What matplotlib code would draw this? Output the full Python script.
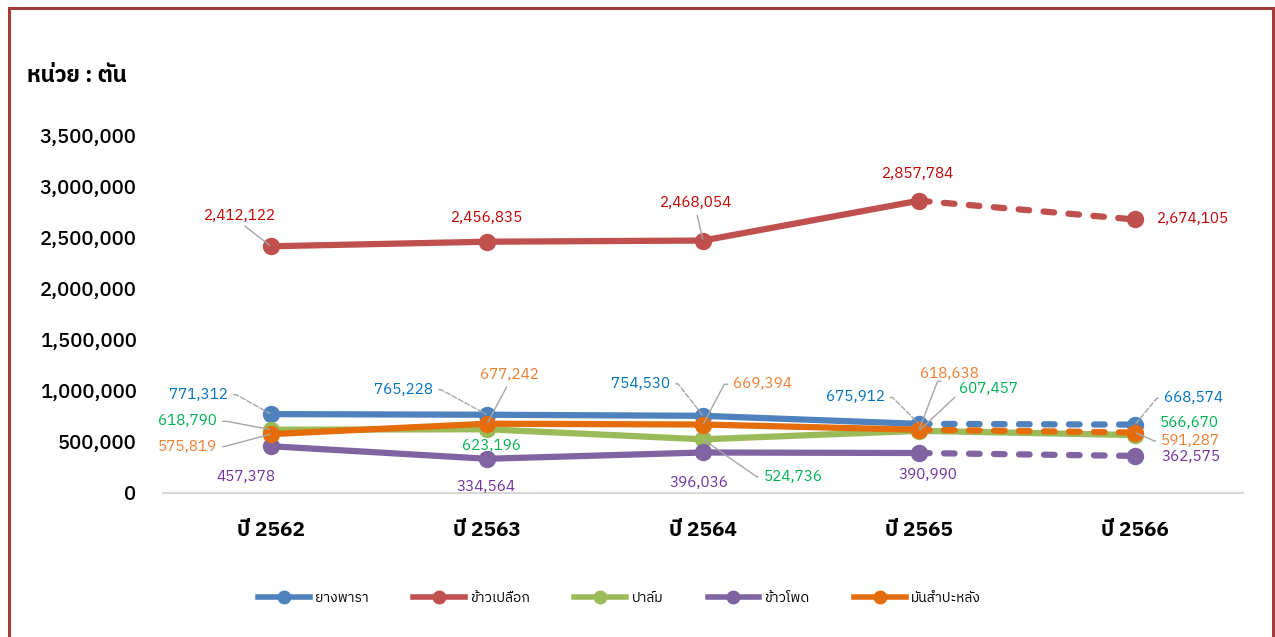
import matplotlib
matplotlib.use("Agg")
import matplotlib.pyplot as plt
from matplotlib import font_manager
from matplotlib.ft2font import FT2Font
from matplotlib.lines import Line2D

# Data (ตัน)
years = ["ปี 2562", "ปี 2563", "ปี 2564", "ปี 2565", "ปี 2566"]
rubber = [771312, 765228, 754530, 675912, 668574]
paddy = [2412122, 2456835, 2468054, 2857784, 2674105]
palm = [618790, 623196, 524736, 607457, 566670]
maize = [457378, 334564, 396036, 390990, 362575]
cassava = [575819, 677242, 669394, 618638, 591287]
names = ["ยางพารา", "ข้าวเปลือก", "ปาล์ม", "ข้าวโพด", "มันสำปะหลัง"]


def find_thai_font():
    found = []
    for f in font_manager.fontManager.ttflist:
        try:
            cmap = FT2Font(f.fname).get_charmap()
        except Exception:
            continue
        if 0x0E01 in cmap and 0x0E49 in cmap and 0x0030 in cmap:
            found.append(f.name)
    if not found:
        return None
    for key in ("Tahoma", "Thai", "Loma", "Garuda"):
        for n in found:
            if key in n:
                return n
    return found[0]


thai = find_thai_font()
fams = [thai, "DejaVu Sans"] if thai else ["DejaVu Sans"]
plt.rcParams["font.family"] = fams

fig = plt.figure(figsize=(12.75, 6.37), dpi=100)
ax = fig.add_axes([163 / 1275, 1 - 493 / 637, 1080 / 1275, 358 / 637])

x = list(range(len(years)))
series = [
    (rubber, "#4F81BD", "#0070C0", True),
    (paddy, "#C0504D", "#C00000", True),
    (palm, "#9BBB59", "#00B050", False),
    (maize, "#8064A2", "#7030A0", True),
    (cassava, "#E46C0A", "#ED7D31", True),
]

lw = 4.5
for k, (vals, col, _, dash_last) in enumerate(series):
    z = 3 + k
    if dash_last:
        ax.plot(x[:4], vals[:4], color=col, lw=lw, solid_capstyle="round", zorder=z)
        ax.plot(x[3:], vals[3:], color=col, lw=lw, dashes=(1.7, 2.3),
                dash_capstyle="round", zorder=z)
    else:
        ax.plot(x, vals, color=col, lw=lw, solid_capstyle="round", zorder=z)
    ax.plot(x, vals, ls="none", marker="o", ms=11.5, color=col, zorder=z)

# label offsets in points: (dx, dy, leader) leader = (relpos, angleA, arm) or None
lab = [
    [(-52, 14, ((1, 0.5), 0, 8)), (-60, 18, ((1, 0.5), 0, 8)), (-45, 23, ((1, 0.5), 0, 8)),
     (-46, 19, ((1, 0.5), 0, 8)), (42, 19, ((0, 0.5), 180, 7))],
    [(-22, 22, ((0.5, 0), 0, 0)), (0, 17, None), (-5, 27, ((0.5, 0), 0, 0)),
     (-1, 19, None), (42, 0, None)],
    [(-60, 6, ((1, 0.5), 0, 10)), (3, -12, None), (65, -27, ((0, 0.5), 180, 7)),
     (50, 30, ((0, 0.2), 0, 0)), (39, 9, None)],
    [(-18, -22, None), (-1, -20, None), (-3, -22, None), (6, -16, None), (40, -1, None)],
    [(-60, -9, ((1, 0.5), 0, 7)), (16, 35, ((0.5, 0), 0, 0)), (43, 29, ((0, 0.5), 180, 9)),
     (22, 40, ((0.45, 0), 180, 9)), (40, -6, ((0, 0.5), 180, 7))],
]

for k, (vals, col, tcol, _) in enumerate(series):
    for i, v in enumerate(vals):
        dx, dy, leader = lab[k][i]
        kw = dict(xytext=(dx, dy), textcoords="offset points", ha="center",
                  va="center", color=tcol, fontsize=11, zorder=10)
        if leader is not None:
            relpos, angA, arm = leader
            if arm:
                cs = f"arc,angleA={angA},angleB=0,armA={arm},armB=0,rad=0"
            else:
                cs = "arc3,rad=0"
            kw["arrowprops"] = dict(arrowstyle="-", color="#A6A6A6", lw=1,
                                    ls="--" if k == 0 else "-", relpos=relpos,
                                    patchA=None, shrinkA=4, shrinkB=1,
                                    connectionstyle=cs)
        ax.annotate(f"{v:,}", (x[i], v), **kw)

ax.set_xlim(-0.5, 4.5)
ax.set_ylim(0, 3500000)
ax.set_yticks(range(0, 3500001, 500000))
ax.set_yticklabels([f"{t:,}" for t in range(0, 3500001, 500000)], fontsize=14.5,
                   fontweight="medium")
ax.set_xticks(x)
ax.set_xticklabels(years, fontsize=15, fontweight="bold")
ax.tick_params(axis="y", length=0, pad=19)
ax.tick_params(axis="x", length=0, pad=20)
for s in ("top", "right", "left"):
    ax.spines[s].set_visible(False)
ax.spines["bottom"].set_color("#D9D9D9")
ax.spines["bottom"].set_linewidth(1.5)

fig.text(27 / 1275, 1 - 76 / 637, "หน่วย : ตัน", fontsize=16, fontweight="bold",
         ha="left", va="center")

handles = [Line2D([], [], color=c, lw=4, marker="o", ms=9) for _, c, _, _ in series]
fig.legend(handles, names, loc="center", bbox_to_anchor=(0.486, 1 - 598 / 637),
           ncol=5, frameon=False, fontsize=10, handlelength=3.7,
           handletextpad=0.4, columnspacing=3.2)

# chart border
bc = "#A33B3B"
fig.add_artist(Line2D([9 / 1275, 9 / 1275], [0, 1 - 8 / 637], color=bc, lw=2.2))
fig.add_artist(Line2D([9 / 1275, 1273 / 1275], [1 - 8 / 637, 1 - 8 / 637], color=bc, lw=2.2))
fig.add_artist(Line2D([1273 / 1275, 1273 / 1275], [0, 1 - 8 / 637], color=bc, lw=2.2))

fig.savefig("out.png", dpi=100)
